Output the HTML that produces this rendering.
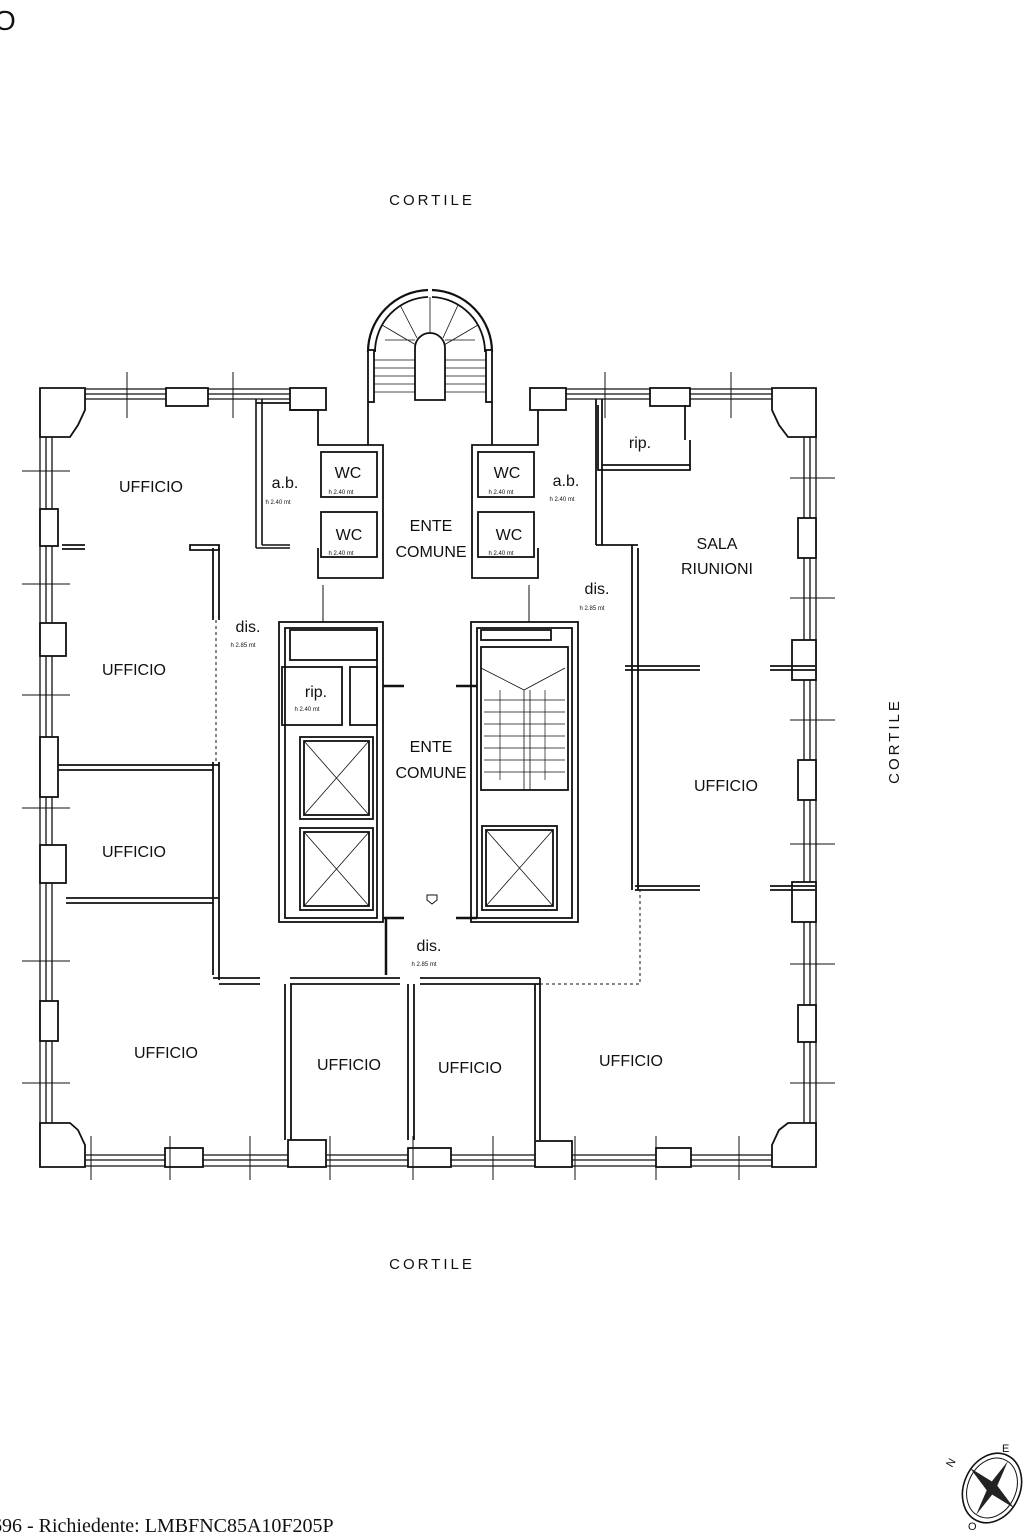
<!DOCTYPE html>
<html><head><meta charset="utf-8"><style>
html,body{margin:0;padding:0;background:#fff}
svg{display:block}
text{font-family:"Liberation Sans",Arial,sans-serif;fill:#111}
</style></head><body>
<svg width="1024" height="1536" viewBox="0 0 1024 1536" xmlns="http://www.w3.org/2000/svg">
<g fill="none" stroke="#111" stroke-width="1.8">
<g stroke-width="1.3">
<line x1="40" y1="389" x2="325" y2="389"/><line x1="40" y1="394" x2="325" y2="394"/><line x1="40" y1="399" x2="325" y2="399"/>
<line x1="530" y1="389" x2="816" y2="389"/><line x1="530" y1="394" x2="816" y2="394"/><line x1="530" y1="399" x2="816" y2="399"/>
<line x1="40" y1="1155" x2="816" y2="1155"/><line x1="40" y1="1160" x2="816" y2="1160"/><line x1="40" y1="1166" x2="816" y2="1166"/>
<line x1="40" y1="389" x2="40" y2="1166"/><line x1="46" y1="389" x2="46" y2="1166"/><line x1="52" y1="389" x2="52" y2="1166"/>
<line x1="804" y1="389" x2="804" y2="1166"/><line x1="810" y1="389" x2="810" y2="1166"/><line x1="816" y1="389" x2="816" y2="1166"/>
</g>
<g fill="#fff">
<path d="M40 388 H85 V410 L78 425 L70 437 H40 Z"/>
<path d="M816 388 H772 V410 L779 425 L788 437 H816 Z"/>
<path d="M40 1167 H85 V1145 L78 1130 L70 1123 H40 Z"/>
<path d="M816 1167 H772 V1145 L779 1130 L788 1123 H816 Z"/>
<rect x="40" y="509" width="18" height="37"/><rect x="40" y="623" width="26" height="33"/>
<rect x="40" y="737" width="18" height="60"/><rect x="40" y="845" width="26" height="38"/>
<rect x="40" y="1001" width="18" height="40"/>
<rect x="798" y="518" width="18" height="40"/><rect x="792" y="640" width="24" height="40"/>
<rect x="798" y="760" width="18" height="40"/><rect x="792" y="882" width="24" height="40"/>
<rect x="798" y="1005" width="18" height="37"/>
<rect x="166" y="388" width="42" height="18"/><rect x="290" y="388" width="36" height="22"/>
<rect x="530" y="388" width="36" height="22"/><rect x="650" y="388" width="40" height="18"/>
<rect x="165" y="1148" width="38" height="19"/><rect x="288" y="1140" width="38" height="27"/>
<rect x="408" y="1148" width="43" height="19"/><rect x="535" y="1141" width="37" height="26"/>
<rect x="656" y="1148" width="35" height="19"/>
</g>
<g stroke-width="1">
<path d="M22 471H70M22 584H70M22 695H70M22 808H70M22 961H70M22 1083H70"/>
<path d="M790 478H835M790 598H835M790 720H835M790 844H835M790 964H835M790 1083H835"/>
<path d="M127 372V418M233 372V418M605 372V418M731 372V418"/>
<path d="M91 1136V1180M170 1136V1180M250 1136V1180M330 1136V1180M413 1136V1180M493 1136V1180M575 1136V1180M656 1136V1180M739 1136V1180"/>
</g>
<path d="M368 352 A62 62 0 0 1 428 290 M432 290 A62 62 0 0 1 492 352" stroke-width="2.2"/>
<path d="M375 352 A55 55 0 0 1 428 297 M432 297 A55 55 0 0 1 485 352"/>
<rect x="368" y="350" width="6" height="52" fill="#fff"/><rect x="486" y="350" width="6" height="52" fill="#fff"/>
<path d="M415 400V348 A15 15 0 0 1 445 348V400Z"/>
<g stroke-width="0.8">
<path d="M374 360H415M374 368H415M374 376H415M374 384H415M374 392H415M445 360H486M445 368H486M445 376H486M445 384H486M445 392H486"/>
<path d="M430 297V333M400 305L417 338M458 305L443 338M382 325L416 345M478 325L444 345M385 340H415M475 340H445"/>
</g>
<line x1="368" y1="402" x2="368" y2="445"/><line x1="492" y1="402" x2="492" y2="445"/>
<path d="M256 399V548M262 399V545M256 548H290M262 545H290" stroke-width="1.6"/>
<path d="M256 403H290"/>
<path d="M290 410H318V445H383V578H318V548"/>
<rect x="321" y="452" width="56" height="45"/><rect x="321" y="512" width="56" height="45"/>
<path d="M190 545H219V550H190Z"/>
<path d="M213 548V975M219 548V980"/>
<path d="M538 410V445H472V578H538V548"/>
<rect x="478" y="452" width="56" height="45"/><rect x="478" y="512" width="56" height="45"/>
<path d="M596 399V545M602 399V545M596 545H638M602 545H638"/>
<path d="M598 405V470H690V440 M602 465H690 M685 405V440"/>
<path d="M632 545V890M638 548V890"/>
<path d="M625 666H700M625 670H700M770 666H815M770 670H815"/>
<path d="M635 886H700M635 890H700M770 886H815M770 890H815"/>
<path d="M58 765H219M58 770H213M66 898H219M66 903H213"/>
<path d="M213 978H260M290 978H400M420 978H540M219 984H260M290 984H400M420 984H540"/>
<path d="M540 978V1140M535 984V1140M285 984V1140M291 984V1140M408 984V1140M414 984V1140"/>
<path d="M62 545H85M62 549H85"/>
<path d="M540 984H640V890" stroke-dasharray="3 3" stroke-width="1"/>
<path d="M216 620V762" stroke="#fff" stroke-width="9"/>
<path d="M216 620V762" stroke-dasharray="3 3" stroke-width="1"/>
<rect x="279" y="622" width="104" height="300"/>
<rect x="285" y="628" width="92" height="290"/>
<rect x="290" y="630" width="87" height="30"/>
<rect x="282" y="667" width="60" height="58"/><rect x="350" y="667" width="27" height="58"/>
<rect x="300" y="737" width="73" height="82"/><rect x="304" y="741" width="65" height="74"/>
<path d="M304 741L369 815M369 741L304 815" stroke-width="0.8"/>
<rect x="300" y="828" width="73" height="82"/><rect x="304" y="832" width="65" height="74"/>
<path d="M304 832L369 906M369 832L304 906" stroke-width="0.8"/>
<rect x="471" y="622" width="107" height="300"/>
<rect x="477" y="628" width="95" height="290"/>
<rect x="481" y="630" width="70" height="10"/>
<rect x="481" y="647" width="87" height="143"/>
<path d="M481 668L524 690L565 668M524 690V790M530 690V790" stroke-width="0.8"/>
<path d="M484 700H565M484 712H565M484 724H565M484 736H565M484 748H565M484 760H565M484 772H565M500 690V780M545 690V780" stroke-width="0.7"/>
<rect x="482" y="826" width="75" height="84"/><rect x="486" y="830" width="67" height="76"/>
<path d="M486 830L553 906M553 830L486 906" stroke-width="0.8"/>
<path d="M383 686H404M456 686H477M383 918H404M456 918H477" stroke-width="2.5"/>
<path d="M427 895H437V900L432 904L427 900Z" stroke-width="1"/>
<path d="M386 918V975" stroke-width="2.5"/>
<path d="M323 585V622M529 585V622" stroke-width="1"/>
</g>
<text x="-6" y="30" font-size="28">O</text>
<text x="432" y="205" font-size="15" text-anchor="middle" letter-spacing="3">CORTILE</text>
<text x="432" y="1269" font-size="15" text-anchor="middle" letter-spacing="3">CORTILE</text>
<text transform="translate(899,741) rotate(-90)" font-size="15" text-anchor="middle" letter-spacing="3">CORTILE</text>
<g font-size="16">
<text x="151" y="492" text-anchor="middle">UFFICIO</text>
<text x="134" y="675" text-anchor="middle">UFFICIO</text>
<text x="134" y="857" text-anchor="middle">UFFICIO</text>
<text x="166" y="1058" text-anchor="middle">UFFICIO</text>
<text x="349" y="1070" text-anchor="middle">UFFICIO</text>
<text x="470" y="1073" text-anchor="middle">UFFICIO</text>
<text x="631" y="1066" text-anchor="middle">UFFICIO</text>
<text x="726" y="791" text-anchor="middle">UFFICIO</text>
<text x="717" y="549" text-anchor="middle">SALA</text>
<text x="717" y="574" text-anchor="middle">RIUNIONI</text>
<text x="431" y="531" text-anchor="middle">ENTE</text>
<text x="431" y="557" text-anchor="middle">COMUNE</text>
<text x="431" y="752" text-anchor="middle">ENTE</text>
<text x="431" y="778" text-anchor="middle">COMUNE</text>
<text x="348" y="478" text-anchor="middle">WC</text>
<text x="349" y="540" text-anchor="middle">WC</text>
<text x="507" y="478" text-anchor="middle">WC</text>
<text x="509" y="540" text-anchor="middle">WC</text>
<text x="285" y="488" text-anchor="middle">a.b.</text>
<text x="566" y="486" text-anchor="middle">a.b.</text>
<text x="640" y="448" text-anchor="middle">rip.</text>
<text x="316" y="697" text-anchor="middle">rip.</text>
<text x="248" y="632" text-anchor="middle">dis.</text>
<text x="597" y="594" text-anchor="middle">dis.</text>
<text x="429" y="951" text-anchor="middle">dis.</text>
</g>
<g font-size="6">
<text x="278" y="504" text-anchor="middle">h 2.40 mt</text>
<text x="562" y="501" text-anchor="middle">h 2.40 mt</text>
<text x="341" y="494" text-anchor="middle">h 2.40 mt</text><text x="341" y="555" text-anchor="middle">h 2.40 mt</text>
<text x="501" y="494" text-anchor="middle">h 2.40 mt</text><text x="501" y="555" text-anchor="middle">h 2.40 mt</text>
<text x="307" y="711" text-anchor="middle">h 2.40 mt</text>
<text x="243" y="647" text-anchor="middle">h 2.85 mt</text>
<text x="592" y="610" text-anchor="middle">h 2.85 mt</text>
<text x="424" y="966" text-anchor="middle">h 2.85 mt</text>
</g>
<text x="-8" y="1532" font-size="20" style="font-family:'Liberation Serif',serif">696 - Richiedente: LMBFNC85A10F205P</text>
<g transform="translate(992,1488)">
<ellipse cx="0" cy="0" rx="28" ry="36" fill="none" stroke="#111" stroke-width="1.6" transform="rotate(25)"/>
<ellipse cx="0" cy="0" rx="24" ry="31" fill="none" stroke="#111" stroke-width="1" transform="rotate(25)"/>
<path d="M-22 -20L4 -4L-4 4Z M22 20L-4 4L4 -4Z M16 -27L3 3L-3 -3Z M-16 27L-3 -3L3 3Z" fill="#222"/>
<text x="-40" y="-20" font-size="11" transform="rotate(-60 -40 -20)">N</text>
<text x="10" y="-36" font-size="11">E</text>
<text x="-24" y="42" font-size="11">O</text>
</g>
</svg>
</body></html>
